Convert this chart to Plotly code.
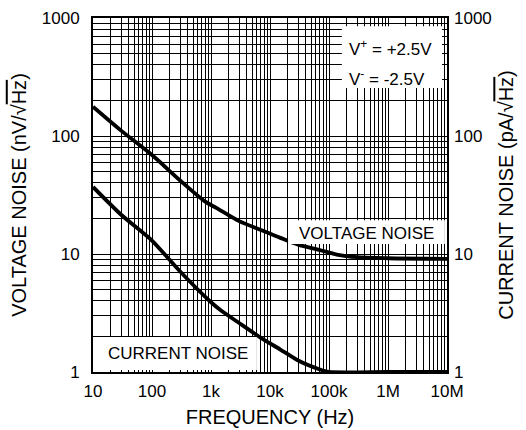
import plotly.graph_objects as go

# ---- data ----
volt_freq = [10, 30, 100, 300, 800, 1250, 3000, 7000, 15000, 30000, 70000, 135000, 300000, 1000000, 10000000]
volt_noise = [177, 111, 69, 42, 27.8, 24.5, 19, 16, 13.7, 12, 10.8, 9.9, 9.4, 9.2, 9.1]

curr_freq = [10, 30, 100, 300, 1000, 1500, 3000, 7000, 15000, 30000, 70000, 100000, 1000000, 10000000]
curr_noise = [37, 21.5, 13, 7.1, 3.9, 3.3, 2.6, 1.95, 1.55, 1.25, 1.05, 1.0, 1.0, 1.0]

x_tick_vals = [10, 100, 1000, 10000, 100000, 1000000, 10000000]
x_tick_text = ["10", "100", "1k", "10k", "100k", "1M", "10M"]
y_tick_vals = [1, 10, 100, 1000]
y_tick_text = ["1", "10", "100", "1000"]

FONT = "Liberation Sans, Arial, Helvetica, sans-serif"

def log_grid(decades):
    vals = []
    for d in decades:
        for m in range(1, 10):
            vals.append(m * 10 ** d)
    return vals

x_grid = log_grid(range(1, 7)) + [10 ** 7]
y_grid = log_grid(range(0, 3)) + [1000]

def labels(grid, tv, tt):
    m = dict(zip(tv, tt))
    return [m.get(v, "") for v in grid]

fig = go.Figure()
fig.add_trace(go.Scatter(x=volt_freq, y=volt_noise, mode="lines",
                         line=dict(color="black", width=3.8, shape="spline", smoothing=0.8),
                         showlegend=False, hoverinfo="skip"))
fig.add_trace(go.Scatter(x=curr_freq, y=curr_noise, mode="lines", yaxis="y2",
                         line=dict(color="black", width=3.8, shape="spline", smoothing=0.6),
                         showlegend=False, hoverinfo="skip"))

fig.update_layout(
    width=526, height=430,
    margin=dict(l=93, r=79, t=18, b=58, autoexpand=False),
    paper_bgcolor="white", plot_bgcolor="white",
    font=dict(family=FONT, size=17, color="black"),
    xaxis=dict(type="log", range=[1, 7], tickvals=x_grid,
               ticktext=labels(x_grid, x_tick_vals, x_tick_text),
               showgrid=True, gridcolor="black", gridwidth=1,
               showline=True, linecolor="black", linewidth=2, mirror=True,
               ticks="", ticklabelstandoff=3, zeroline=False, automargin=False,
               title=dict(text="FREQUENCY (Hz)", standoff=10)),
    yaxis=dict(type="log", range=[0, 3], tickvals=y_grid,
               ticktext=labels(y_grid, y_tick_vals, y_tick_text),
               showgrid=True, gridcolor="black", gridwidth=1,
               showline=True, linecolor="black", linewidth=2, mirror=True,
               ticks="", ticklabelstandoff=8, zeroline=False, automargin=False,
               title=dict(text="VOLTAGE NOISE (nV/√<span style='text-decoration:overline'>Hz</span>)", standoff=10)),
    yaxis2=dict(type="log", range=[0, 3], overlaying="y", side="right",
                tickvals=y_tick_vals, ticktext=y_tick_text,
                showgrid=False, ticks="", ticklabelstandoff=6, zeroline=False, automargin=False,
                title=dict(text="CURRENT NOISE (pA/√<span style='text-decoration:overline'>Hz</span>)", standoff=8)),
)

# white label boxes
fig.add_shape(type="rect", xref="paper", yref="paper", x0=0.703, x1=0.986, y0=0.802, y1=0.977,
              fillcolor="white", line=dict(width=0), layer="above")
fig.add_shape(type="rect", xref="paper", yref="paper", x0=0.0198, x1=0.463, y0=0.0056, y1=0.0989,
              fillcolor="white", line=dict(width=0), layer="above")
fig.add_shape(type="rect", xref="paper", yref="paper", x0=0.551, x1=0.994, y0=0.3616, y1=0.429,
              fillcolor="white", line=dict(width=0), layer="above")

fig.add_annotation(xref="paper", yref="paper", x=0.7175, y=0.915, xanchor="left", yanchor="middle",
                   text="V<sup>+</sup> = +2.5V", showarrow=False, font=dict(size=17))
fig.add_annotation(xref="paper", yref="paper", x=0.7175, y=0.8305, xanchor="left", yanchor="middle",
                   text="V<sup>-</sup> = -2.5V", showarrow=False, font=dict(size=17))
fig.add_annotation(xref="paper", yref="paper", x=0.2415, y=0.052, xanchor="center", yanchor="middle",
                   text="CURRENT NOISE", showarrow=False, font=dict(size=17))
fig.add_annotation(xref="paper", yref="paper", x=0.7726, y=0.392, xanchor="center", yanchor="middle",
                   text="VOLTAGE NOISE", showarrow=False, font=dict(size=17))

fig.write_html("out.html")
